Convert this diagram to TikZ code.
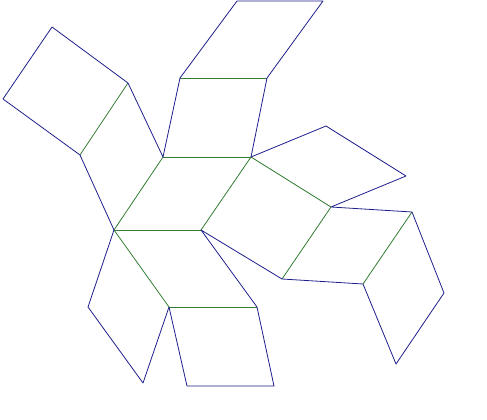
\documentclass[tikz,border=0pt]{standalone}
\definecolor{edgeblue}{RGB}{30,30,140}
\definecolor{edgegreen}{RGB}{50,125,50}
\begin{document}
\begin{tikzpicture}[x=1pt,y=-1pt,
  bl/.style={draw=edgeblue,line width=0.8pt,line join=round},
  gr/.style={draw=edgegreen,line width=0.8pt}]
\useasboundingbox (0,0) rectangle (487,420);
\coordinate (A) at (52,27);
\coordinate (B) at (128,83);
\coordinate (C) at (3,99);
\coordinate (D) at (80,155);
\coordinate (E) at (163,157);
\coordinate (F) at (180,78);
\coordinate (G) at (237,1);
\coordinate (G2) at (323,1);
\coordinate (H) at (267,78);
\coordinate (I) at (251,157);
\coordinate (J) at (326,126);
\coordinate (K) at (406,176);
\coordinate (L) at (331,207);
\coordinate (M) at (114,230);
\coordinate (N) at (201,230);
\coordinate (O) at (88,307);
\coordinate (P) at (169,307);
\coordinate (Q) at (143,383);
\coordinate (R) at (187,386);
\coordinate (S) at (412,212);
\coordinate (T) at (282,279);
\coordinate (U) at (363,284);
\coordinate (V) at (444,293);
\coordinate (W) at (396,364);
\coordinate (X) at (257,307);
\coordinate (Y) at (274,386);
% green edges
\draw[gr] (F) -- (H);
\draw[gr] (E) -- (I);
\draw[gr] (B) -- (D);
\draw[gr] (E) -- (M);
\draw[gr] (I) -- (N);
\draw[gr] (M) -- (N);
\draw[gr] (I) -- (L);
\draw[gr] (L) -- (T);
\draw[gr] (S) -- (U);
\draw[gr] (M) -- (P);
\draw[gr] (P) -- (X);
% blue edges
\draw[bl] (B) -- (A) -- (C) -- (D) -- (M);
\draw[bl] (B) -- (E) -- (F) -- (G) -- (G2) -- (H) -- (I);
\draw[bl] (I) -- (J) -- (K) -- (L) -- (S) -- (V) -- (W) -- (U) -- (T) -- (N) -- (X) -- (Y) -- (R) -- (P) -- (Q) -- (O) -- (M);
\end{tikzpicture}
\end{document}
